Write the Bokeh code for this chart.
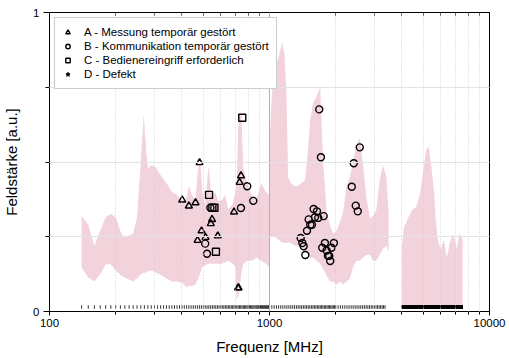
import numpy as np
from bokeh.plotting import figure
from bokeh.models import (Range1d, LogAxis, LinearAxis, FixedTicker, Grid, Legend,
                          LegendItem, NumeralTickFormatter, CustomJSTickFormatter)
from bokeh.embed import file_html
from bokeh.resources import INLINE

# ---------------- data ----------------
# envelope band, part 1 (140 MHz - 3.5 GHz)
band1_freq = [140, 150, 160, 170, 180, 190, 200, 212, 220, 240, 250, 260, 268, 275, 280,
              293, 305, 324, 340, 360, 380, 400, 420, 430, 444, 460, 475, 485, 495, 510,
              528, 546, 566, 585, 606, 628, 650, 680, 700, 709, 720, 727, 745, 760, 790,
              829, 875, 920, 960, 995, 1005, 1030, 1060, 1100, 1140, 1170, 1195, 1215, 1250,
              1300, 1350, 1400, 1450, 1500, 1530, 1580, 1640, 1700, 1730, 1760, 1820, 1880,
              1950, 2020, 2090, 2160, 2240, 2320, 2400, 2490, 2570, 2660, 2760, 2860, 2960,
              3060, 3170, 3280, 3400, 3480]
band1_lower = [0.147, 0.114, 0.10, 0.125, 0.158, 0.158, 0.136, 0.12, 0.114, 0.10, 0.11, 0.125,
               0.13, 0.13, 0.136, 0.136, 0.13, 0.12, 0.11, 0.10, 0.10, 0.097, 0.08, 0.085,
               0.085, 0.09, 0.11, 0.13, 0.15, 0.155, 0.16, 0.16, 0.16, 0.16, 0.16, 0.165,
               0.17, 0.16, 0.15, 0.04, 0.05, 0.06, 0.13, 0.16, 0.17, 0.17, 0.18, 0.17, 0.16,
               0.15, 0.25, 0.25, 0.25, 0.24, 0.23, 0.23, 0.23, 0.23, 0.23, 0.22, 0.22, 0.21,
               0.20, 0.19, 0.18, 0.18, 0.17, 0.16, 0.15, 0.14, 0.12, 0.10, 0.10, 0.09, 0.10,
               0.09, 0.10, 0.11, 0.15, 0.17, 0.17, 0.18, 0.19, 0.19, 0.17, 0.17, 0.19, 0.21,
               0.22, 0.20]
band1_upper = [0.32, 0.29, 0.22, 0.27, 0.315, 0.326, 0.315, 0.26, 0.248, 0.26, 0.315, 0.50,
               0.66, 0.54, 0.48, 0.49, 0.48, 0.45, 0.43, 0.40, 0.39, 0.37, 0.38, 0.42, 0.39,
               0.37, 0.49, 0.50, 0.40, 0.35, 0.49, 0.38, 0.40, 0.37, 0.37, 0.39, 0.34, 0.36,
               0.40, 0.43, 0.60, 0.66, 0.66, 0.48, 0.43, 0.39, 0.38, 0.43, 0.40, 0.39, 0.60,
               0.75, 0.82, 0.85, 0.90, 0.86, 0.72, 0.45, 0.43, 0.42, 0.42, 0.43, 0.44, 0.55,
               0.64, 0.70, 0.72, 0.75, 0.60, 0.48, 0.33, 0.29, 0.26, 0.27, 0.30, 0.33, 0.42,
               0.45, 0.50, 0.56, 0.58, 0.49, 0.38, 0.31, 0.32, 0.34, 0.44, 0.49, 0.45, 0.33]

# envelope band, part 2 (4 GHz - 7.5 GHz)
band2_freq = [4000, 4080, 4250, 4450, 4650, 4850, 5000, 5150, 5300, 5450, 5600, 5700, 5850,
              6000, 6200, 6400, 6600, 6850, 7100, 7300, 7550]
band2_lower = [0.02] * len(band2_freq)
band2_upper = [0.22, 0.28, 0.31, 0.34, 0.35, 0.40, 0.47, 0.54, 0.55, 0.48, 0.40, 0.30, 0.23,
               0.21, 0.24, 0.18, 0.23, 0.26, 0.21, 0.26, 0.24]

# measurement frequency sweeps (start, stop, step) in MHz
rug_sweeps = [(140, 1000, 10), (1000, 2000, 25), (2000, 3400, 50), (4000, 7550, 10)]

# A - Messung temporär gestört
A_freq = [401, 430, 461, 481, 471, 491, 512, 541, 548, 582, 690, 731, 742, 719, 724]
A_val = [0.373, 0.353, 0.364, 0.498, 0.238, 0.270, 0.248, 0.294, 0.308, 0.253, 0.333, 0.432,
         0.454, 0.079, 0.079]
# B - Kommunikation temporär gestört
B_freq = [510, 520, 539, 742, 792, 844,
          1386, 1410, 1430, 1455, 1481, 1507, 1533, 1560, 1587, 1609, 1643, 1666, 1762, 1786,
          1737, 1817, 1843, 1869, 1888, 1914, 1962, 2366, 2416, 2573, 2467, 2519, 1713, 1683]
B_val = [0.227, 0.193, 0.347, 0.346, 0.419, 0.370,
         0.246, 0.229, 0.218, 0.189, 0.270, 0.308, 0.290, 0.290, 0.343, 0.315, 0.335, 0.313,
         0.319, 0.229, 0.213, 0.204, 0.186, 0.186, 0.169, 0.213, 0.229, 0.417, 0.496, 0.549,
         0.354, 0.335, 0.516, 0.676]
# C - Bedienereingriff erforderlich
C_freq = [531, 571, 752, 550, 562]
C_val = [0.390, 0.200, 0.648, 0.347, 0.347]
# D - Defekt (no occurrences)
D_freq = []
D_val = []

labels = ["A - Messung temporär gestört", "B - Kommunikation temporär gestört",
          "C - Bedienereingriff erforderlich", "D - Defekt"]

x_major = [100, 1000, 10000]
x_minor = [200, 300, 400, 500, 600, 700, 800, 900, 2000, 3000, 4000, 5000, 6000, 7000, 8000, 9000]
y_major = [0, 1]
y_minor = [0.25, 0.5, 0.75]

# ---------------- plot ----------------
FONT = "Liberation Sans"
p = figure(width=509, height=358, x_axis_type="log",
           x_range=Range1d(100, 10000), y_range=Range1d(0, 1),
           output_backend="svg", toolbar_location=None,
           min_border_left=47, min_border_right=20, min_border_top=12, min_border_bottom=47)
p.outline_line_color = None
p.background_fill_color = "white"
p.border_fill_color = "white"
p.xgrid.visible = False
p.ygrid.visible = False

# band
p.varea(x=band1_freq, y1=band1_lower, y2=band1_upper, fill_color="#f2d2db")
p.varea(x=band2_freq, y1=band2_lower, y2=band2_upper, fill_color="#f2d2db")

# grids (drawn above the band)
g_minor = Grid(dimension=0, ticker=FixedTicker(ticks=x_minor), grid_line_color="#cfcfcf",
               grid_line_dash="1 2", grid_line_width=1, level="guide")
g_1000 = Grid(dimension=0, ticker=FixedTicker(ticks=[1000]), grid_line_color="#b0b0b0",
              grid_line_width=1, level="guide")
g_y = Grid(dimension=1, ticker=FixedTicker(ticks=y_minor), grid_line_color="#e3e3e3",
           grid_line_width=1, level="guide")
p.add_layout(g_minor)
p.add_layout(g_1000)
p.add_layout(g_y)

# rug of measurement frequencies
rug_freq = np.concatenate([np.arange(a, b, s) for a, b, s in rug_sweeps])
p.segment(x0=rug_freq, y0=0.009, x1=rug_freq, y1=0.021, line_color="black", line_width=0.8)

# markers
mk = dict(size=7, fill_color=None, line_color="black", line_width=1.4)
rA = p.scatter(x=A_freq, y=A_val, marker="triangle", **mk)
rB = p.scatter(x=B_freq, y=B_val, marker="circle", **mk)
rC = p.scatter(x=C_freq, y=C_val, marker="square", **mk)
rD = p.scatter(x=D_freq, y=D_val, marker="star", size=7, fill_color="black",
               line_color="black", line_width=1)
# legend proxy for the empty category D (a single non-drawable NaN row)
rD_key = p.scatter(x=[float("nan")], y=[float("nan")], marker="star", size=7,
                   fill_color="black", line_color="black", line_width=1)

legend = Legend(items=[LegendItem(label=labels[0], renderers=[rA]),
                       LegendItem(label=labels[1], renderers=[rB]),
                       LegendItem(label=labels[2], renderers=[rC]),
                       LegendItem(label=labels[3], renderers=[rD_key])],
                location="top_left", margin=5, padding=7, spacing=0,
                glyph_width=11, glyph_height=14, label_height=14, label_standoff=11,
                label_text_font=FONT, label_text_font_size="11.5px", label_text_color="black",
                border_line_color="#9a9a9a", border_line_width=1,
                background_fill_color="white", background_fill_alpha=1.0)
p.add_layout(legend)

# bottom axis
xa = p.xaxis[0]
xa.ticker = FixedTicker(ticks=x_major, minor_ticks=x_minor)
xa.formatter = NumeralTickFormatter(format="0")
xa.axis_label = "Frequenz [MHz]"
xa.axis_label_text_font = FONT
xa.axis_label_text_font_size = "15px"
xa.axis_label_text_font_style = "normal"
xa.axis_label_text_color = "black"
xa.axis_label_standoff = 8
xa.major_label_text_font = FONT
xa.major_label_text_font_size = "11.5px"
xa.major_label_text_color = "black"
xa.major_label_standoff = 3
xa.major_tick_out = 4
xa.major_tick_in = 0
xa.minor_tick_out = 3
xa.minor_tick_in = 0
xa.axis_line_color = "black"
xa.major_tick_line_color = "black"
xa.minor_tick_line_color = "black"

# left axis
ya = p.yaxis[0]
ya.ticker = FixedTicker(ticks=y_major, minor_ticks=y_minor)
ya.axis_label = "Feldstärke [a.u.]"
ya.axis_label_text_font = FONT
ya.axis_label_text_font_size = "15px"
ya.axis_label_text_font_style = "normal"
ya.axis_label_text_color = "black"
ya.axis_label_standoff = 10
ya.major_label_text_font = FONT
ya.major_label_text_font_size = "11.5px"
ya.major_label_text_color = "black"
ya.major_label_standoff = 4
ya.major_tick_out = 6
ya.major_tick_in = 0
ya.minor_tick_out = 4
ya.minor_tick_in = 0
ya.axis_line_color = "black"

empty = CustomJSTickFormatter(code="return ''")

# top axis (mirror, inward ticks)
top = LogAxis(ticker=FixedTicker(ticks=x_major, minor_ticks=x_minor), formatter=empty,
              major_tick_in=4, major_tick_out=0, minor_tick_in=3, minor_tick_out=0,
              major_label_standoff=0, axis_line_color="black")
p.add_layout(top, "above")

# right axis (mirror, inward ticks)
right = LinearAxis(ticker=FixedTicker(ticks=y_major, minor_ticks=y_minor), formatter=empty,
                   major_tick_in=5, major_tick_out=0, minor_tick_in=4, minor_tick_out=0,
                   major_label_standoff=0, axis_line_color="black")
p.add_layout(right, "right")

open("out.html", "w").write(file_html(p, INLINE))
